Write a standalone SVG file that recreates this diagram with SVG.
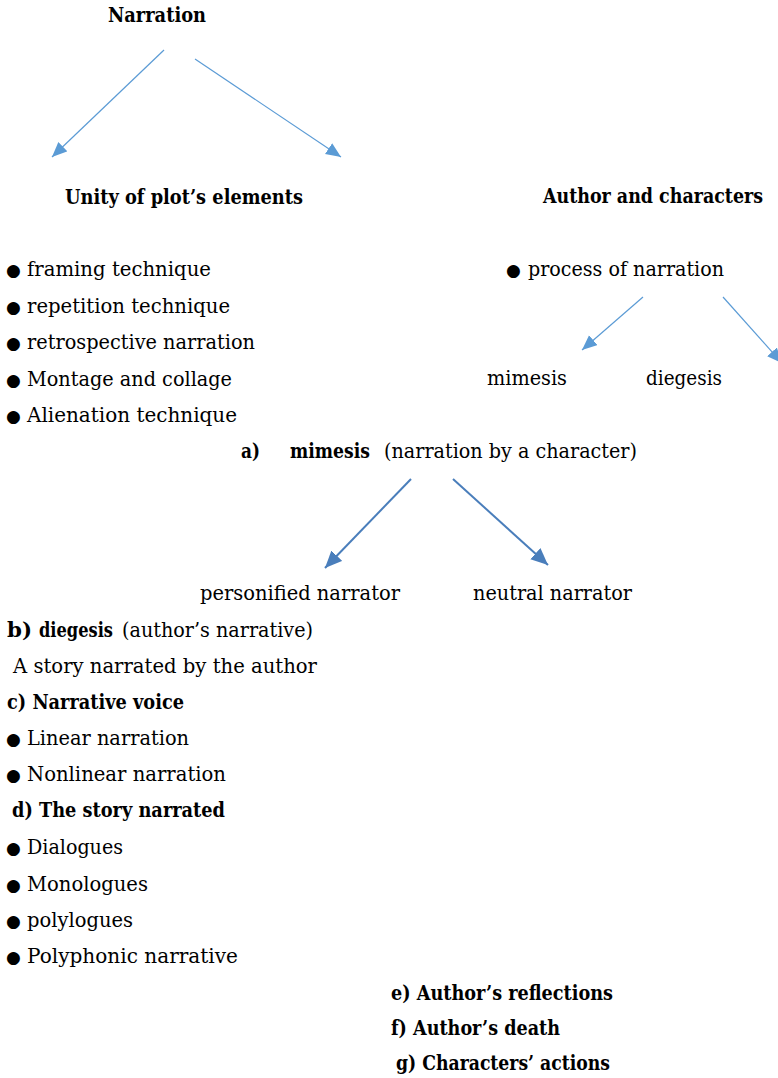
<svg xmlns="http://www.w3.org/2000/svg" width="778" height="1078" viewBox="0 0 778 1078">
<defs>
<style>
text{font-family:"DejaVu Serif","Liberation Serif",serif;font-size:21px;fill:#000}
.b{font-weight:bold}
.bl{font-family:"DejaVu Sans",sans-serif;font-size:17px}
.c1{stroke:#5B9BD5;stroke-width:1.2;fill:none}
.c2{stroke:#4A7EBB;stroke-width:2;fill:none}
</style>
<marker id="ah1" markerUnits="userSpaceOnUse" markerWidth="16" markerHeight="14" refX="15" refY="6.5" orient="auto">
<path d="M0,0 L15,6.5 L0,13 z" fill="#5B9BD5"/>
</marker>
<marker id="ah2" markerUnits="userSpaceOnUse" markerWidth="18" markerHeight="16" refX="17" refY="7.5" orient="auto">
<path d="M0,0 L17,7.5 L0,15 z" fill="#4A7EBB"/>
</marker>
</defs>
<rect width="778" height="1078" fill="#fff"/>

<g id="connectors">
<line class="c1" x1="164" y1="50" x2="52" y2="157" marker-end="url(#ah1)"/>
<line class="c1" x1="195" y1="59" x2="341" y2="157" marker-end="url(#ah1)"/>
<line class="c1" x1="643" y1="297" x2="582" y2="350" marker-end="url(#ah1)"/>
<line class="c1" x1="723" y1="297" x2="782" y2="363" marker-end="url(#ah1)"/>
<line class="c2" x1="411" y1="479" x2="325" y2="568" marker-end="url(#ah2)"/>
<line class="c2" x1="453" y1="479" x2="548" y2="565" marker-end="url(#ah2)"/>
</g>

<g id="narration"><text class="b" x="108" y="22" textLength="98" lengthAdjust="spacingAndGlyphs">Narration</text></g>
<g id="unity"><text class="b" x="65" y="204" textLength="238" lengthAdjust="spacingAndGlyphs">Unity of plot’s elements</text></g>
<g id="author-characters"><text class="b" x="543" y="203" textLength="220" lengthAdjust="spacingAndGlyphs">Author and characters</text></g>
<g id="process"><text class="bl" x="506" y="276">●</text><text x="528" y="276" textLength="196" lengthAdjust="spacingAndGlyphs">process of narration</text></g>
<g id="mimesis-node"><text x="487" y="385" textLength="80" lengthAdjust="spacingAndGlyphs">mimesis</text></g>
<g id="diegesis-node"><text x="646" y="385" textLength="76" lengthAdjust="spacingAndGlyphs">diegesis</text></g>

<g id="unity-list">
<text class="bl" x="6" y="276">●</text><text x="27" y="276" textLength="184" lengthAdjust="spacingAndGlyphs">framing technique</text>
<text class="bl" x="6" y="312.5">●</text><text x="27" y="312.5" textLength="203" lengthAdjust="spacingAndGlyphs">repetition technique</text>
<text class="bl" x="6" y="349">●</text><text x="27" y="349" textLength="228" lengthAdjust="spacingAndGlyphs">retrospective narration</text>
<text class="bl" x="6" y="385.5">●</text><text x="27" y="385.5" textLength="205" lengthAdjust="spacingAndGlyphs">Montage and collage</text>
<text class="bl" x="6" y="422">●</text><text x="27" y="422" textLength="210" lengthAdjust="spacingAndGlyphs">Alienation technique</text>
</g>

<g id="a-mimesis">
<text class="b" x="241" y="458" textLength="19" lengthAdjust="spacingAndGlyphs">a)</text>
<text class="b" x="290" y="458" textLength="80" lengthAdjust="spacingAndGlyphs">mimesis</text>
<text x="384" y="458" textLength="253" lengthAdjust="spacingAndGlyphs">(narration by a character)</text>
</g>
<g id="personified"><text x="200" y="600" textLength="200" lengthAdjust="spacingAndGlyphs">personified narrator</text></g>
<g id="neutral"><text x="473" y="600" textLength="159" lengthAdjust="spacingAndGlyphs">neutral narrator</text></g>

<g id="b-diegesis">
<text class="b" x="7" y="637" textLength="25" lengthAdjust="spacingAndGlyphs">b)</text>
<text class="b" x="39" y="637" textLength="74" lengthAdjust="spacingAndGlyphs">diegesis</text>
<text x="122" y="637" textLength="191" lengthAdjust="spacingAndGlyphs">(author’s narrative)</text>
<text x="13" y="673" textLength="304" lengthAdjust="spacingAndGlyphs">A story narrated by the author</text>
</g>

<g id="c-voice">
<text class="b" x="7" y="709" textLength="177" lengthAdjust="spacingAndGlyphs">c) Narrative voice</text>
<text class="bl" x="6" y="745">●</text><text x="27" y="745" textLength="162" lengthAdjust="spacingAndGlyphs">Linear narration</text>
<text class="bl" x="6" y="781">●</text><text x="27" y="781" textLength="199" lengthAdjust="spacingAndGlyphs">Nonlinear narration</text>
</g>

<g id="d-story">
<text class="b" x="12" y="817" textLength="213" lengthAdjust="spacingAndGlyphs">d) The story narrated</text>
<text class="bl" x="6" y="854">●</text><text x="27" y="854" textLength="96" lengthAdjust="spacingAndGlyphs">Dialogues</text>
<text class="bl" x="6" y="891">●</text><text x="27" y="891" textLength="121" lengthAdjust="spacingAndGlyphs">Monologues</text>
<text class="bl" x="6" y="927">●</text><text x="27" y="927" textLength="106" lengthAdjust="spacingAndGlyphs">polylogues</text>
<text class="bl" x="6" y="963">●</text><text x="27" y="963" textLength="211" lengthAdjust="spacingAndGlyphs">Polyphonic narrative</text>
</g>

<g id="e-reflections"><text class="b" x="391" y="1000" textLength="222" lengthAdjust="spacingAndGlyphs">e) Author’s reflections</text></g>
<g id="f-death"><text class="b" x="391" y="1035" textLength="169" lengthAdjust="spacingAndGlyphs">f) Author’s death</text></g>
<g id="g-actions"><text class="b" x="396" y="1070" textLength="214" lengthAdjust="spacingAndGlyphs">g) Characters’ actions</text></g>
</svg>
